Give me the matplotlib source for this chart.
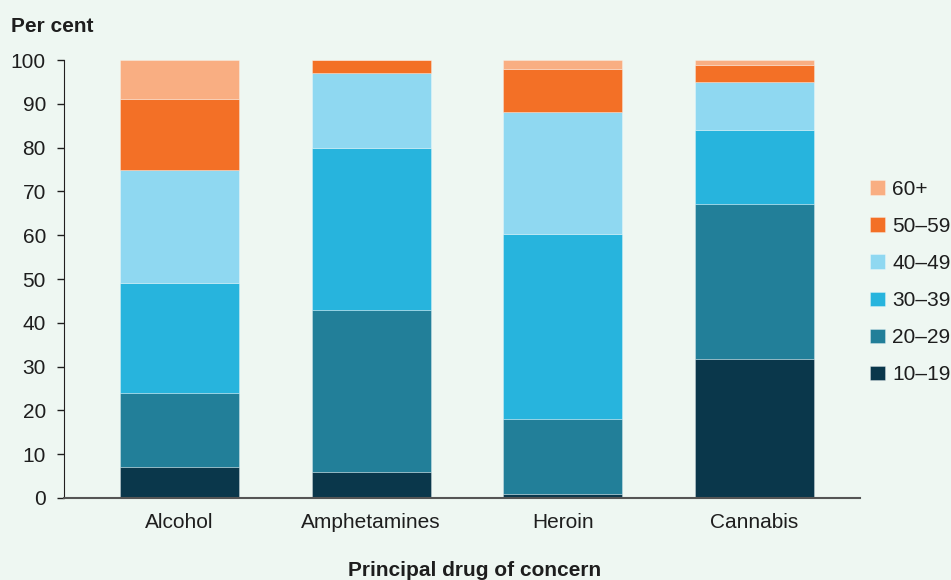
import matplotlib.pyplot as plt
import numpy as np

drugs = ["Alcohol", "Amphetamines", "Heroin", "Cannabis"]
age_groups = ["10–19", "20–29", "30–39", "40–49", "50–59", "60+"]

# per cent of clients in each age group, per drug (bottom to top)
age_10_19 = [7, 6, 1, 31.7]
age_20_29 = [17, 37, 17, 35.5]
age_30_39 = [25, 37, 42.3, 16.9]
age_40_49 = [26, 17, 27.8, 10.9]
age_50_59 = [16, 3, 9.9, 3.9]
age_60_plus = [9, 0.1, 2, 1.1]

series = [age_10_19, age_20_29, age_30_39, age_40_49, age_50_59, age_60_plus]
colors = ["#0A374B", "#227F99", "#27B4DD", "#8FD8F1", "#F37026", "#F9AE82"]

bg = "#EEF7F2"
text_color = "#1E1E1E"

plt.rcParams.update({
    "font.family": ["Liberation Sans", "DejaVu Sans"],
    "font.size": 15,
    "text.color": text_color,
    "axes.labelcolor": text_color,
    "xtick.color": text_color,
    "ytick.color": text_color,
})

fig = plt.figure(figsize=(9.51, 5.80), dpi=100, facecolor=bg)
ax = fig.add_axes([0.0673, 0.1414, 0.837, 0.755])
ax.set_facecolor(bg)

x = np.arange(len(drugs))
bottom = np.zeros(len(drugs))
bars = []
for vals, color, label in zip(series, colors, age_groups):
    b = ax.bar(x, vals, width=0.62, bottom=bottom, color=color,
               edgecolor=(1, 1, 1, 0.35), linewidth=0.6, label=label)
    bars.append(b)
    bottom += np.array(vals)

ax.set_xlim(-0.602, 3.55)
ax.set_ylim(0, 100)
ax.set_yticks(range(0, 101, 10))
ax.set_xticks(x)
ax.set_xticklabels(drugs)
ax.tick_params(axis="x", length=0, pad=11, labelsize=15)
ax.tick_params(axis="y", length=5, width=1, pad=8, labelsize=15)

for side in ["top", "right"]:
    ax.spines[side].set_visible(False)
ax.spines["left"].set_color("#231F20")
ax.spines["bottom"].set_color("#555555")
ax.spines["bottom"].set_linewidth(1.5)

fig.text(0.0116, 0.955, "Per cent", fontsize=15, fontweight="bold", va="center")
fig.text(0.499, 0.016, "Principal drug of concern", fontsize=15,
         fontweight="bold", ha="center", va="center")

handles = bars[::-1]
labels = age_groups[::-1]
leg = fig.legend(handles, labels, loc="upper left", bbox_to_anchor=(0.915, 0.69),
                 frameon=False, handlelength=0.7, handleheight=0.7,
                 handletextpad=0.35, labelspacing=0.87, fontsize=15,
                 borderpad=0, borderaxespad=0)

fig.savefig("out.png", dpi=100, facecolor=bg)
